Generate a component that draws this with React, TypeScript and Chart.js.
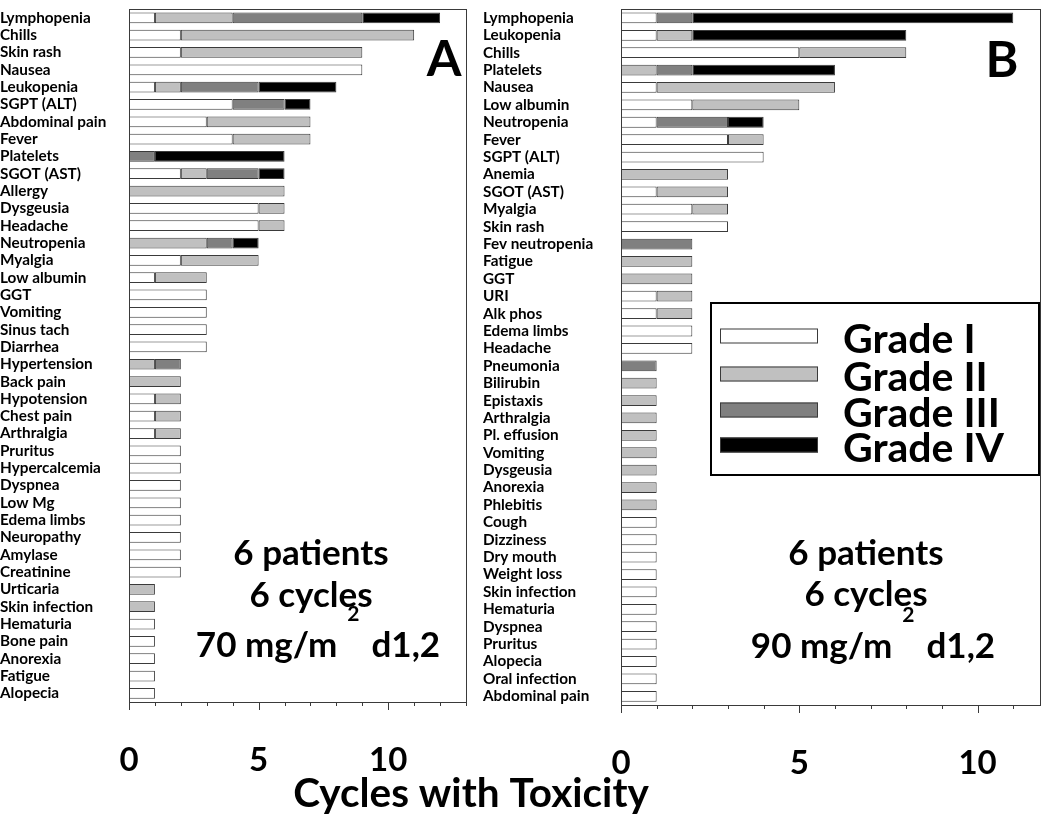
import React, { useEffect, useRef } from "react";
import { Chart, registerables } from "chart.js";
Chart.register(...registerables);

const FONT = "Lato, 'Open Sans', sans-serif";

// ---------- Panel A data ----------
const labelsA = [
  "Lymphopenia", "Chills", "Skin rash", "Nausea", "Leukopenia", "SGPT (ALT)", "Abdominal pain", "Fever",
  "Platelets", "SGOT (AST)", "Allergy", "Dysgeusia", "Headache", "Neutropenia", "Myalgia", "Low albumin",
  "GGT", "Vomiting", "Sinus tach", "Diarrhea", "Hypertension", "Back pain", "Hypotension", "Chest pain",
  "Arthralgia", "Pruritus", "Hypercalcemia", "Dyspnea", "Low Mg", "Edema limbs", "Neuropathy", "Amylase",
  "Creatinine", "Urticaria", "Skin infection", "Hematuria", "Bone pain", "Anorexia", "Fatigue", "Alopecia",
];
const gradeI_A = [1, 2, 2, 9, 1, 4, 3, 4, 0, 2, 0, 5, 5, 0, 2, 1, 3, 3, 3, 3, 0, 0, 1, 1, 1, 2, 2, 2, 2, 2, 2, 2, 2, 0, 0, 1, 1, 1, 1, 1];
const gradeII_A = [3, 9, 7, 0, 1, 0, 4, 3, 0, 1, 6, 1, 1, 3, 3, 2, 0, 0, 0, 0, 1, 2, 1, 1, 1, 0, 0, 0, 0, 0, 0, 0, 0, 1, 1, 0, 0, 0, 0, 0];
const gradeIII_A = [5, 0, 0, 0, 3, 2, 0, 0, 1, 2, 0, 0, 0, 1, 0, 0, 0, 0, 0, 0, 1, 0, 0, 0, 0, 0, 0, 0, 0, 0, 0, 0, 0, 0, 0, 0, 0, 0, 0, 0];
const gradeIV_A = [3, 0, 0, 0, 3, 1, 0, 0, 5, 1, 0, 0, 0, 1, 0, 0, 0, 0, 0, 0, 0, 0, 0, 0, 0, 0, 0, 0, 0, 0, 0, 0, 0, 0, 0, 0, 0, 0, 0, 0];

// ---------- Panel B data ----------
const labelsB = [
  "Lymphopenia", "Leukopenia", "Chills", "Platelets", "Nausea", "Low albumin", "Neutropenia", "Fever",
  "SGPT (ALT)", "Anemia", "SGOT (AST)", "Myalgia", "Skin rash", "Fev neutropenia", "Fatigue", "GGT",
  "URI", "Alk phos", "Edema limbs", "Headache", "Pneumonia", "Bilirubin", "Epistaxis", "Arthralgia",
  "Pl. effusion", "Vomiting", "Dysgeusia", "Anorexia", "Phlebitis", "Cough", "Dizziness", "Dry mouth",
  "Weight loss", "Skin infection", "Hematuria", "Dyspnea", "Pruritus", "Alopecia", "Oral infection", "Abdominal pain",
];
const gradeI_B = [1, 1, 5, 0, 1, 2, 1, 3, 4, 0, 1, 2, 3, 0, 0, 0, 1, 1, 2, 2, 0, 0, 0, 0, 0, 0, 0, 0, 0, 1, 1, 1, 1, 1, 1, 1, 1, 1, 1, 1];
const gradeII_B = [0, 1, 3, 1, 5, 3, 0, 1, 0, 3, 2, 1, 0, 0, 2, 2, 1, 1, 0, 0, 0, 1, 1, 1, 1, 1, 1, 1, 1, 0, 0, 0, 0, 0, 0, 0, 0, 0, 0, 0];
const gradeIII_B = [1, 0, 0, 1, 0, 0, 2, 0, 0, 0, 0, 0, 0, 2, 0, 0, 0, 0, 0, 0, 1, 0, 0, 0, 0, 0, 0, 0, 0, 0, 0, 0, 0, 0, 0, 0, 0, 0, 0, 0];
const gradeIV_B = [9, 6, 0, 4, 0, 0, 1, 0, 0, 0, 0, 0, 0, 0, 0, 0, 0, 0, 0, 0, 0, 0, 0, 0, 0, 0, 0, 0, 0, 0, 0, 0, 0, 0, 0, 0, 0, 0, 0, 0];

const gradeNames = ["Grade I", "Grade II", "Grade III", "Grade IV"];
const gradeColors = ["#ffffff", "#c0c0c0", "#808080", "#000000"];
const axisTicks = [0, 5, 10];
const annotLines = ["6 patients", "6 cycles"];
const doseA = ["70 mg/m", "2", "d1,2"];
const doseB = ["90 mg/m", "2", "d1,2"];
const xTitle = "Cycles with Toxicity";

type PanelProps = {
  labels: string[];
  grades: number[][];
  max: number;
  padLeft: number;
  yWidth: number;
  padRight: number;
  padTop: number;
  xHeight: number;
  draw: (ctx: CanvasRenderingContext2D) => void;
};

function drawDose(ctx: CanvasRenderingContext2D, parts: string[], cx: number, base: number) {
  ctx.font = `bold 35px ${FONT}`;
  const w1 = ctx.measureText(parts[0]).width;
  const w3 = ctx.measureText(parts[2]).width;
  ctx.font = `bold 21px ${FONT}`;
  const w2 = ctx.measureText(parts[1]).width;
  const g1 = 10, g2 = 12;
  const total = w1 + g1 + w2 + g2 + w3;
  let x = cx - total / 2;
  ctx.textAlign = "left";
  ctx.textBaseline = "alphabetic";
  ctx.font = `bold 35px ${FONT}`;
  ctx.fillText(parts[0], x, base);
  x += w1 + g1;
  ctx.font = `bold 21px ${FONT}`;
  ctx.fillText(parts[1], x, base - 36);
  x += w2 + g2;
  ctx.font = `bold 35px ${FONT}`;
  ctx.fillText(parts[2], x, base);
}

function Panel(p: PanelProps) {
  const ref = useRef<HTMLCanvasElement>(null);
  useEffect(() => {
    const nz = (a: number[]) => a.map((v) => (v === 0 ? null : v));
    const frame = {
      id: "frame",
      afterDraw(chart: any) {
        const ctx = chart.ctx as CanvasRenderingContext2D;
        const a = chart.chartArea;
        const xs = chart.scales.x;
        ctx.save();
        ctx.strokeStyle = "#3a3a3a";
        ctx.lineWidth = 1;
        ctx.strokeRect(Math.round(a.left) + 0.5, Math.round(a.top) + 0.5, Math.round(a.right - a.left), Math.round(a.bottom - a.top));
        for (let i = 0; i <= Math.floor(p.max); i++) {
          const x = Math.round(xs.getPixelForValue(i)) + 0.5;
          const len = i % 5 === 0 ? 8 : 4;
          ctx.beginPath();
          ctx.moveTo(x, Math.round(a.bottom));
          ctx.lineTo(x, Math.round(a.bottom) + len);
          ctx.stroke();
        }
        ctx.fillStyle = "#000";
        p.draw(ctx);
        ctx.restore();
      },
    };
    const chart = new Chart(ref.current!, {
      type: "bar",
      data: {
        labels: p.labels,
        datasets: p.grades.map((g, i) => ({
          label: gradeNames[i],
          data: nz(g) as any,
          backgroundColor: gradeColors[i],
          borderColor: "#3a3a3a",
          borderWidth: 1,
          borderSkipped: false,
          categoryPercentage: 1,
          barPercentage: 0.62,
        })),
      },
      options: {
        indexAxis: "y",
        responsive: false,
        maintainAspectRatio: false,
        animation: false,
        layout: { padding: { left: p.padLeft, right: p.padRight, top: p.padTop, bottom: 0 } },
        plugins: { legend: { display: false }, tooltip: { enabled: false } },
        scales: {
          x: {
            type: "linear",
            stacked: true,
            min: 0,
            max: p.max,
            grid: { display: false, drawTicks: false },
            border: { display: false },
            ticks: {
              stepSize: 5,
              includeBounds: false,
              color: "#000",
              font: { family: FONT, weight: "bold", size: 33 },
              padding: 39,
              maxRotation: 0,
              callback: (v: any) => (axisTicks.includes(Number(v)) ? String(v) : ""),
            },
            afterFit: (s: any) => {
              s.height = p.xHeight;
            },
          },
          y: {
            type: "category",
            stacked: true,
            grid: { display: false, drawTicks: false },
            border: { display: false },
            ticks: {
              autoSkip: false,
              color: "#000",
              crossAlign: "far",
              padding: 0,
              font: { family: FONT, weight: "bold", size: 15.3 },
            },
            afterFit: (s: any) => {
              s.width = p.yWidth;
            },
          },
        },
      } as any,
      plugins: [frame],
    });
    return () => chart.destroy();
  }, []);
  return <canvas ref={ref} width={1050} height={819} style={{ position: "absolute", left: 0, top: 0 }} />;
}

export default function App() {
  const drawA = (ctx: CanvasRenderingContext2D) => {
    ctx.textAlign = "center";
    ctx.textBaseline = "alphabetic";
    ctx.font = `bold 50px ${FONT}`;
    ctx.fillText("A", 444, 76);
    ctx.font = `bold 35px ${FONT}`;
    ctx.fillText(annotLines[0], 311, 565);
    ctx.fillText(annotLines[1], 311, 607);
    drawDose(ctx, doseA, 318, 657);
    ctx.textAlign = "center";
    ctx.font = `bold 40.5px ${FONT}`;
    ctx.fillText(xTitle, 471, 807);
  };
  const drawB = (ctx: CanvasRenderingContext2D) => {
    ctx.textAlign = "center";
    ctx.textBaseline = "alphabetic";
    ctx.font = `bold 50px ${FONT}`;
    ctx.fillText("B", 1002, 77);
    ctx.font = `bold 35px ${FONT}`;
    ctx.fillText(annotLines[0], 866, 565);
    ctx.fillText(annotLines[1], 866, 606);
    drawDose(ctx, doseB, 873, 658);
    // legend
    ctx.fillStyle = "#fff";
    ctx.fillRect(711, 303, 328, 172);
    ctx.strokeStyle = "#000";
    ctx.lineWidth = 2;
    ctx.strokeRect(711, 303, 328, 172);
    const cy = [336, 374, 410, 445];
    for (let i = 0; i < 4; i++) {
      ctx.fillStyle = gradeColors[i];
      ctx.fillRect(720, cy[i] - 7.5, 98, 15);
      ctx.strokeStyle = "#3a3a3a";
      ctx.lineWidth = 1;
      ctx.strokeRect(720.5, cy[i] - 7, 97, 14);
      ctx.fillStyle = "#000";
      ctx.textAlign = "left";
      ctx.font = `bold 41px ${FONT}`;
      ctx.fillText(gradeNames[i], 843, cy[i] + 17);
    }
  };
  return (
    <div style={{ position: "absolute", left: 0, top: 0, width: 1050, height: 819, background: "#fff" }}>
      <Panel
        labels={labelsA}
        grades={[gradeI_A, gradeII_A, gradeIII_A, gradeIV_A]}
        max={13}
        padLeft={0}
        yWidth={129}
        padRight={584}
        padTop={1}
        xHeight={117}
        draw={drawA}
      />
      <Panel
        labels={labelsB}
        grades={[gradeI_B, gradeII_B, gradeIII_B, gradeIV_B]}
        max={11.75}
        padLeft={483}
        yWidth={138}
        padRight={10}
        padTop={2}
        xHeight={114}
        draw={drawB}
      />
    </div>
  );
}
